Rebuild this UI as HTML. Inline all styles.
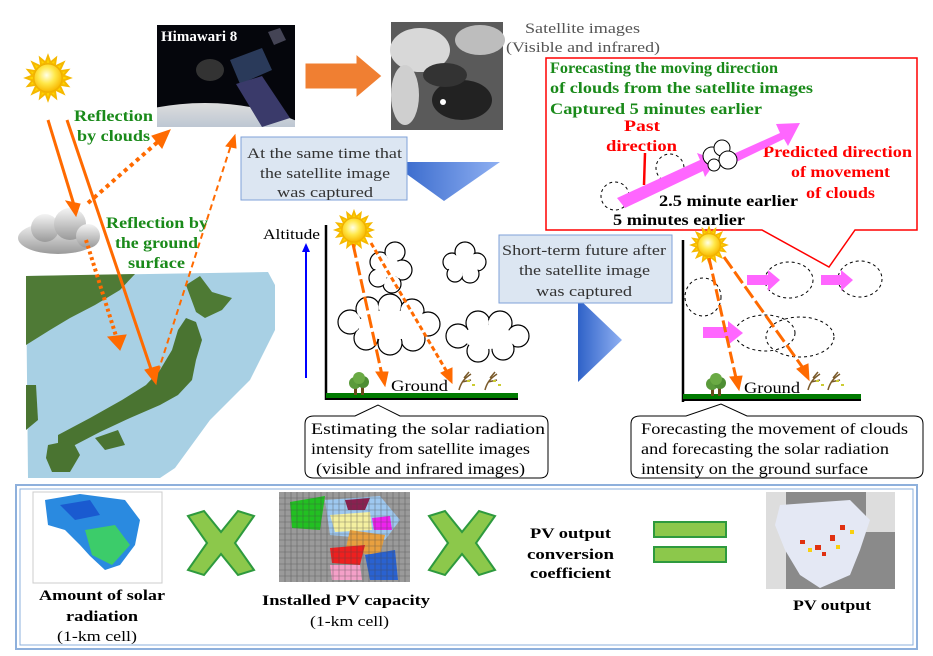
<!DOCTYPE html>
<html><head><meta charset="utf-8"><style>
html,body{margin:0;padding:0;background:#fff}
svg{display:block}
text{font-family:"Liberation Serif",serif}
.g{fill:#1a8a1a;font-weight:bold;font-size:16px}
.r{fill:#ff0000;font-weight:bold;font-size:16px}
.k{fill:#000;font-weight:bold;font-size:16px}
.t{font-size:15px;fill:#333}
.c{font-size:16px;fill:#000}
.b{font-weight:bold;font-size:15px;fill:#000}
</style></head><body>
<svg width="933" height="656" viewBox="0 0 933 656" xmlns="http://www.w3.org/2000/svg">
<defs>
<radialGradient id="sun" cx="0.45" cy="0.4" r="0.6"><stop offset="0" stop-color="#ffffe8"/><stop offset="0.5" stop-color="#ffe84a"/><stop offset="1" stop-color="#f8b800"/></radialGradient>
<linearGradient id="cl" x1="0" y1="0" x2="0" y2="1"><stop offset="0" stop-color="#f4f4f4"/><stop offset="1" stop-color="#9a9a9a"/></linearGradient>
<linearGradient id="tri" x1="0" y1="0" x2="1" y2="0"><stop offset="0" stop-color="#2f62c8"/><stop offset="1" stop-color="#8fb0f2"/></linearGradient>
<linearGradient id="earth" x1="0" y1="0" x2="0" y2="1"><stop offset="0" stop-color="#ddd"/><stop offset="1" stop-color="#3a6aa8"/></linearGradient>
<clipPath id="hc"><rect x="157" y="25" width="138" height="102"/></clipPath>
<g id="s">
<g stroke="#f5b800" stroke-width="2" fill="#ffd400">
<polygon points="0,-22 3,-14 -3,-14"/><polygon points="0,22 3,14 -3,14"/><polygon points="-22,0 -14,3 -14,-3"/><polygon points="22,0 14,3 14,-3"/>
<polygon points="15.5,-15.5 8,-12 12,-8"/><polygon points="-15.5,-15.5 -8,-12 -12,-8"/><polygon points="15.5,15.5 8,12 12,8"/><polygon points="-15.5,15.5 -8,12 -12,8"/>
<polygon points="8,-20 7,-13 2,-15"/><polygon points="-8,-20 -7,-13 -2,-15"/><polygon points="8,20 7,13 2,15"/><polygon points="-8,20 -7,13 -2,15"/>
<polygon points="20,8 13,7 15,2"/><polygon points="-20,8 -13,7 -15,2"/><polygon points="20,-8 13,-7 15,-2"/><polygon points="-20,-8 -13,-7 -15,-2"/>
</g>
<circle r="14" fill="url(#sun)" stroke="#f0b000" stroke-width="1"/>
</g>
<g id="tree"><rect x="-5" y="6" width="3" height="8" fill="#6b4b1a"/><rect x="2" y="6" width="3" height="8" fill="#6b4b1a"/><circle cx="-4" cy="2" r="6" fill="#5a9a3a"/><circle cx="4" cy="1" r="6" fill="#4e8e34"/><circle cx="0" cy="-3" r="6" fill="#6aaa44"/></g>
<g id="wt" stroke="#7a5a2a" stroke-width="1.5" fill="none"><path d="M0,12 C2,4 6,0 12,-4 M3,4 L12,2 M5,0 L10,-6"/><rect x="8" y="2" width="3" height="2" fill="#cc3" stroke="none"/><rect x="13" y="6" width="3" height="2" fill="#cc3" stroke="none"/></g>
</defs>

<use href="#s" x="48" y="78"/>
<g clip-path="url(#hc)">
<rect x="157" y="25" width="138" height="102" fill="#05060c"/>
<ellipse cx="205" cy="165" rx="130" ry="62" fill="url(#earth)"/>
<polygon points="230,60 262,48 272,70 240,84" fill="#2a3a5a"/>
<polygon points="236,84 262,76 290,118 262,127" fill="#3a3a6a"/>
<ellipse cx="210" cy="70" rx="14" ry="11" fill="#333"/>
<polygon points="268,32 280,28 286,40 274,45" fill="#445"/>
</g>
<text x="161" y="41" fill="#fff" font-weight="bold" font-size="15">Himawari 8</text>
<polygon points="305,63 356,63 356,54 382,76 356,98 356,89 305,89" fill="#f07f32" stroke="#fff" stroke-width="1"/>
<rect x="391" y="22" width="112" height="108" fill="#5a5a5a"/>
<ellipse cx="420" cy="50" rx="30" ry="22" fill="#d8d8d8"/>
<ellipse cx="480" cy="40" rx="25" ry="15" fill="#bdbdbd"/>
<ellipse cx="405" cy="95" rx="14" ry="30" fill="#cfcfcf"/>
<ellipse cx="462" cy="100" rx="30" ry="20" fill="#222"/>
<ellipse cx="445" cy="75" rx="22" ry="12" fill="#333"/>
<circle cx="443" cy="102" r="3" fill="#fff"/>
<text x="525" y="33" fill="#555" font-size="15" textLength="115" lengthAdjust="spacingAndGlyphs">Satellite  images</text>
<text x="506" y="52" fill="#555" font-size="15" textLength="154" lengthAdjust="spacingAndGlyphs">(Visible  and infrared)</text>

<path d="M546,58 L917,58 L917,230 L855,230 L829,267 L762,230 L546,230 Z" fill="#fff" stroke="#ff0000" stroke-width="1.5"/>
<text class="g" x="550" y="73" textLength="228" lengthAdjust="spacingAndGlyphs">Forecasting the moving direction</text>
<text class="g" x="550" y="93" textLength="263" lengthAdjust="spacingAndGlyphs">of clouds from the satellite images</text>
<text class="g" x="550" y="114" textLength="212" lengthAdjust="spacingAndGlyphs">Captured 5 minutes earlier</text>
<text class="r" x="624" y="131" textLength="36" lengthAdjust="spacingAndGlyphs">Past</text>
<text class="r" x="606" y="151" textLength="71" lengthAdjust="spacingAndGlyphs">direction</text>
<text class="r" x="763" y="157" textLength="149" lengthAdjust="spacingAndGlyphs">Predicted direction</text>
<text class="r" x="791" y="177" textLength="99" lengthAdjust="spacingAndGlyphs">of movement</text>
<text class="r" x="806" y="198" textLength="69" lengthAdjust="spacingAndGlyphs">of clouds</text>
<g fill="#fff" stroke="#000" stroke-dasharray="3,3" stroke-width="1"><circle cx="615" cy="196" r="14"/><circle cx="670" cy="168" r="14"/></g>
<polygon points="617,198 700,160 697,153 717,160 705,177 703,171 625,208" fill="#ff66ff"/>
<polygon points="720,160 780,133 776,124 800,123 788,146 784,139 726,167" fill="#ff66ff"/>
<g fill="#fff" stroke="#000" stroke-width="1"><circle cx="712" cy="156" r="9"/><circle cx="722" cy="148" r="8"/><circle cx="728" cy="160" r="9"/><circle cx="714" cy="165" r="6"/></g>
<line x1="645" y1="153" x2="644" y2="185" stroke="#f00" stroke-width="2.5"/>
<text class="k" x="659" y="206" textLength="139" lengthAdjust="spacingAndGlyphs">2.5 minute earlier</text>
<text class="k" x="613" y="225" textLength="132" lengthAdjust="spacingAndGlyphs">5 minutes earlier</text>

<g fill="url(#cl)"><ellipse cx="58" cy="238" rx="40" ry="16"/><circle cx="45" cy="228" r="14"/><circle cx="70" cy="224" r="16"/><circle cx="88" cy="236" r="12"/></g>

<!-- Japan map -->
<path d="M26,276 L268,272 L275,285 L275,330 L250,380 L210,420 L175,468 L160,478 L28,478 Z" fill="#a8d0e4"/>
<path d="M26,276 L135,274 L120,290 L95,305 L70,318 L50,330 L26,345 Z" fill="#4f7a36"/>
<path d="M186,285 L200,276 L212,292 L232,298 L222,310 L205,318 L196,312 Z" fill="#4e7a34"/>
<path d="M186,318 L196,322 L202,340 L196,360 L192,380 L178,395 L160,405 L130,418 L100,432 L75,445 L58,448 L58,435 L90,418 L122,400 L146,385 L160,370 L172,350 L178,330 Z" fill="#4a7431"/>
<path d="M95,438 L118,430 L125,445 L105,450 Z" fill="#4a7431"/>
<path d="M48,445 L72,440 L80,455 L70,472 L52,472 L46,458 Z" fill="#4a7431"/>
<path d="M26,385 L36,385 L38,420 L26,430 Z" fill="#4a7431"/>

<g stroke="#ff6a00" fill="#ff6a00">
<line x1="48" y1="120" x2="74" y2="205" stroke-width="3"/><polygon points="66,201 80,204 76,216"/>
<line x1="67" y1="120" x2="153" y2="375" stroke-width="3"/><polygon points="145,370 159,366 156,384"/>
<line x1="88" y1="203" x2="160" y2="140" stroke-width="4" stroke-dasharray="4,4"/><polygon points="152,136 170,130 162,148"/>
<line x1="86" y1="240" x2="116" y2="336" stroke-width="4" stroke-dasharray="3,3"/><polygon points="108,337 126,335 120,350"/>
<line x1="158" y1="372" x2="231" y2="145" stroke-width="2" stroke-dasharray="6,4"/><polygon points="226,146 236,148 235,135"/>
</g>
<text class="g" x="74" y="121" textLength="79" lengthAdjust="spacingAndGlyphs">Reflection</text>
<text class="g" x="77" y="141" textLength="73" lengthAdjust="spacingAndGlyphs">by clouds</text>
<text class="g" x="106" y="228" textLength="102" lengthAdjust="spacingAndGlyphs">Reflection by</text>
<text class="g" x="115" y="248" textLength="83" lengthAdjust="spacingAndGlyphs">the ground</text>
<text class="g" x="128" y="268" textLength="57" lengthAdjust="spacingAndGlyphs">surface</text>

<polygon points="390,162 500,162 444,201" fill="url(#tri)"/>
<rect x="241" y="137" width="166" height="63" fill="#dce6f2" stroke="#7fa1d8" stroke-width="1"/>
<text class="t" x="247" y="158" textLength="155" lengthAdjust="spacingAndGlyphs">At the  same time  that</text>
<text class="t" x="260" y="178" textLength="130" lengthAdjust="spacingAndGlyphs">the satellite  image</text>
<text class="t" x="277" y="197" textLength="96" lengthAdjust="spacingAndGlyphs">was captured</text>

<text x="263" y="239" font-size="15" textLength="57" lengthAdjust="spacingAndGlyphs">Altitude</text>
<line x1="306" y1="378" x2="306" y2="250" stroke="#0000ff" stroke-width="2"/><polygon points="302,252 310,252 306,243" fill="#0000ff"/>
<!-- scalloped clouds -->
<g fill="#fff" stroke="#000" stroke-width="1.2">
<circle cx="380" cy="262" r="10"/><circle cx="395" cy="252" r="10"/><circle cx="402" cy="270" r="10"/><circle cx="392" cy="284" r="9"/><circle cx="378" cy="278" r="9"/>
<circle cx="452" cy="262" r="9"/><circle cx="465" cy="252" r="10"/><circle cx="477" cy="262" r="9"/><circle cx="470" cy="274" r="9"/><circle cx="455" cy="274" r="8"/>
<circle cx="350" cy="322" r="12"/><circle cx="368" cy="309" r="12"/><circle cx="390" cy="306" r="12"/><circle cx="412" cy="311" r="12"/><circle cx="428" cy="324" r="12"/><circle cx="413" cy="339" r="12"/><circle cx="390" cy="343" r="12"/><circle cx="366" cy="338" r="12"/>
<circle cx="458" cy="336" r="12"/><circle cx="478" cy="323" r="12"/><circle cx="500" cy="323" r="12"/><circle cx="518" cy="336" r="11"/><circle cx="503" cy="349" r="11"/><circle cx="478" cy="351" r="11"/>
</g>
<g fill="#fff">
<circle cx="380" cy="262" r="8.8"/><circle cx="395" cy="252" r="8.8"/><circle cx="402" cy="270" r="8.8"/><circle cx="392" cy="284" r="7.8"/><circle cx="378" cy="278" r="7.8"/><circle cx="390" cy="268" r="10"/>
<circle cx="452" cy="262" r="7.8"/><circle cx="465" cy="252" r="8.8"/><circle cx="477" cy="262" r="7.8"/><circle cx="470" cy="274" r="7.8"/><circle cx="455" cy="274" r="6.8"/><circle cx="464" cy="264" r="9"/>
<circle cx="350" cy="322" r="10.8"/><circle cx="368" cy="309" r="10.8"/><circle cx="390" cy="306" r="10.8"/><circle cx="412" cy="311" r="10.8"/><circle cx="428" cy="324" r="10.8"/><circle cx="413" cy="339" r="10.8"/><circle cx="390" cy="343" r="10.8"/><circle cx="366" cy="338" r="10.8"/><ellipse cx="390" cy="325" rx="32" ry="15"/>
<circle cx="458" cy="336" r="10.8"/><circle cx="478" cy="323" r="10.8"/><circle cx="500" cy="323" r="10.8"/><circle cx="518" cy="336" r="9.8"/><circle cx="503" cy="349" r="9.8"/><circle cx="478" cy="351" r="9.8"/><ellipse cx="488" cy="337" rx="25" ry="12"/>
</g>
<line x1="326" y1="225" x2="326" y2="400" stroke="#000" stroke-width="2.5"/>
<rect x="326" y="393" width="192" height="5" fill="#007a00"/>
<line x1="326" y1="399" x2="518" y2="399" stroke="#000" stroke-width="2"/>
<use href="#s" transform="translate(354,230) scale(0.85)"/>
<g stroke="#ff6a00" fill="#ff6a00">
<line x1="353" y1="244" x2="382" y2="375" stroke-width="3" stroke-dasharray="14,4"/><polygon points="376,372 388,372 385,386"/>
<line x1="371" y1="243" x2="447" y2="372" stroke-width="3" stroke-dasharray="5,3"/><polygon points="441,373 452,368 452,383"/>
</g>
<use href="#tree" x="359" y="381"/>
<text x="391" y="391" font-size="16" textLength="57" lengthAdjust="spacingAndGlyphs">Ground</text>
<use href="#wt" x="459" y="378"/><use href="#wt" x="485" y="378"/>

<path d="M314,416 L355,416 L378,405 L400,416 L540,416 Q548,416 548,424 L548,470 Q548,478 540,478 L314,478 Q305,478 305,470 L305,424 Q305,416 314,416 Z" fill="#fff" stroke="#000" stroke-width="1"/>
<text class="c" x="311" y="434" textLength="234" lengthAdjust="spacingAndGlyphs">Estimating  the  solar  radiation</text>
<text class="c" x="311" y="454" textLength="219" lengthAdjust="spacingAndGlyphs">intensity  from  satellite  images</text>
<text class="c" x="316" y="474" textLength="209" lengthAdjust="spacingAndGlyphs">(visible  and  infrared  images)</text>

<polygon points="578,298 622,340 578,382" fill="url(#tri)"/>
<rect x="499" y="235" width="173" height="68" fill="#dce6f2" stroke="#7fa1d8" stroke-width="1"/>
<text class="t" x="502" y="255" textLength="164" lengthAdjust="spacingAndGlyphs">Short-term  future  after</text>
<text class="t" x="519" y="275" textLength="131" lengthAdjust="spacingAndGlyphs">the satellite  image</text>
<text class="t" x="536" y="296" textLength="96" lengthAdjust="spacingAndGlyphs">was  captured</text>

<g fill="none" stroke="#000" stroke-dasharray="3,3" stroke-width="1">
<ellipse cx="703" cy="297" rx="18" ry="19"/>
<ellipse cx="789" cy="280" rx="24" ry="18"/>
<ellipse cx="860" cy="279" rx="22" ry="18"/>
<ellipse cx="765" cy="333" rx="30" ry="18"/>
<ellipse cx="800" cy="337" rx="34" ry="20"/>
</g>
<g fill="#ff66ff">
<polygon points="747,275 768,275 768,270 780,280 768,291 768,285 747,285"/>
<polygon points="821,275 841,275 841,270 853,280 841,291 841,285 821,285"/>
<polygon points="703,327 728,327 728,321 743,333 728,345 728,338 703,338"/>
</g>
<line x1="683" y1="240" x2="683" y2="402" stroke="#000" stroke-width="2.5"/>
<rect x="683" y="394" width="178" height="5" fill="#007a00"/>
<line x1="683" y1="400" x2="861" y2="400" stroke="#000" stroke-width="2"/>
<use href="#s" transform="translate(709,245) scale(0.8)"/>
<g stroke="#ff6a00" fill="#ff6a00">
<line x1="709" y1="258" x2="736" y2="378" stroke-width="3" stroke-dasharray="12,4"/><polygon points="730,377 742,376 739,390"/>
<line x1="724" y1="257" x2="803" y2="368" stroke-width="3" stroke-dasharray="14,4"/><polygon points="797,369 808,364 809,380"/>
</g>
<use href="#tree" x="716" y="382"/>
<text x="744" y="393" font-size="16" textLength="56" lengthAdjust="spacingAndGlyphs">Ground</text>
<use href="#wt" x="808" y="378"/><use href="#wt" x="828" y="378"/>

<path d="M640,416 L686,416 L721,404 L747,416 L914,416 Q923,416 923,424 L923,470 Q923,478 914,478 L640,478 Q631,478 631,470 L631,424 Q631,416 640,416 Z" fill="#fff" stroke="#000" stroke-width="1"/>
<text class="c" x="641" y="434" textLength="267" lengthAdjust="spacingAndGlyphs">Forecasting  the movement  of clouds</text>
<text class="c" x="641" y="454" textLength="248" lengthAdjust="spacingAndGlyphs">and forecasting  the  solar  radiation</text>
<text class="c" x="641" y="474" textLength="227" lengthAdjust="spacingAndGlyphs">intensity   on the ground surface</text>

<rect x="16" y="485" width="901" height="164" fill="#fff" stroke="#8eb0dc" stroke-width="2"/>
<rect x="20" y="489" width="893" height="156" fill="none" stroke="#8eb0dc" stroke-width="1"/>
<rect x="33" y="492" width="129" height="91" fill="#fff" stroke="#ccc"/>
<path d="M45,500 L80,494 L125,500 L140,520 L135,545 L120,565 L105,570 L90,556 L80,545 L65,530 L48,525 Z" fill="#2a8ae0"/>
<path d="M85,530 L115,525 L130,545 L112,565 L92,555 Z" fill="#3ccc6a"/>
<path d="M60,505 L90,500 L100,515 L75,520 Z" fill="#1a5ad0"/>
<text class="b" x="39" y="600" textLength="126" lengthAdjust="spacingAndGlyphs">Amount of solar</text>
<text class="b" x="66" y="621" textLength="72" lengthAdjust="spacingAndGlyphs">radiation</text>
<text x="57" y="641" font-size="15" textLength="80" lengthAdjust="spacingAndGlyphs">(1-km cell)</text>
<g fill="#8cc84b" stroke="#2e9a3e" stroke-width="2">
<polygon points="188,516 204,511 221,532 238,511 254,516 235,543 254,570 238,575 221,554 204,575 188,570 207,543"/>
<polygon points="429,516 445,511 462,532 479,511 495,516 476,543 495,570 479,575 462,554 445,575 429,570 448,543"/>
</g>
<rect x="279" y="492" width="131" height="90" fill="#9a9a9a"/>
<path d="M290,502 L325,496 L320,530 L292,528 Z" fill="#22c022"/>
<path d="M325,500 L380,496 L400,520 L385,540 L330,535 Z" fill="#9ec8f0"/>
<path d="M330,515 L370,512 L372,530 L335,532 Z" fill="#f4f0a0"/>
<path d="M350,530 L385,535 L380,555 L345,552 Z" fill="#e8a040"/>
<path d="M330,548 L365,545 L360,565 L332,563 Z" fill="#ee2020"/>
<path d="M365,555 L395,550 L398,580 L370,580 Z" fill="#2a62d0"/>
<path d="M330,565 L360,565 L362,580 L332,580 Z" fill="#f4a0c8"/>
<path d="M372,518 L390,516 L392,530 L374,530 Z" fill="#ee22ee"/>
<path d="M345,500 L370,498 L365,510 L348,510 Z" fill="#8a2050"/>
<g stroke="#444" stroke-width="0.6" opacity="0.6">
<path d="M285,492V582M291,492V582M297,492V582M303,492V582M309,492V582M315,492V582M321,492V582M327,492V582M333,492V582M339,492V582M345,492V582M351,492V582M357,492V582M363,492V582M369,492V582M375,492V582M381,492V582M387,492V582M393,492V582M399,492V582M405,492V582"/>
<path d="M279,498H410M279,504H410M279,510H410M279,516H410M279,522H410M279,528H410M279,534H410M279,540H410M279,546H410M279,552H410M279,558H410M279,564H410M279,570H410M279,576H410"/>
</g>
<text class="b" x="262" y="605" textLength="168" lengthAdjust="spacingAndGlyphs">Installed PV capacity</text>
<text x="310" y="626" font-size="15" textLength="79" lengthAdjust="spacingAndGlyphs">(1-km cell)</text>
<text class="b" x="530" y="538" textLength="81" lengthAdjust="spacingAndGlyphs">PV output</text>
<text class="b" x="527" y="559" textLength="87" lengthAdjust="spacingAndGlyphs">conversion</text>
<text class="b" x="530" y="578" textLength="81" lengthAdjust="spacingAndGlyphs">coefficient</text>
<rect x="654" y="522" width="72" height="15" fill="#8cc84b" stroke="#2e9a3e" stroke-width="2"/>
<rect x="654" y="547" width="72" height="15" fill="#8cc84b" stroke="#2e9a3e" stroke-width="2"/>
<rect x="766" y="492" width="129" height="97" fill="#8a8a8a"/>
<rect x="766" y="492" width="20" height="97" fill="#ddd"/>
<rect x="866" y="492" width="29" height="40" fill="#ddd"/>
<path d="M780,505 L850,500 L870,520 L860,550 L850,575 L820,588 L800,575 L785,550 L775,525 Z" fill="#e4e8f4"/>
<g fill="#e03010"><rect x="800" y="540" width="5" height="4"/><rect x="815" y="545" width="6" height="5"/><rect x="830" y="535" width="5" height="6"/><rect x="840" y="525" width="5" height="5"/><rect x="822" y="552" width="4" height="4"/></g>
<g fill="#f8d010"><rect x="808" y="548" width="4" height="4"/><rect x="836" y="545" width="4" height="4"/><rect x="850" y="530" width="4" height="4"/></g>
<text class="b" x="793" y="610" textLength="78" lengthAdjust="spacingAndGlyphs">PV output</text>
</svg>
</body></html>
